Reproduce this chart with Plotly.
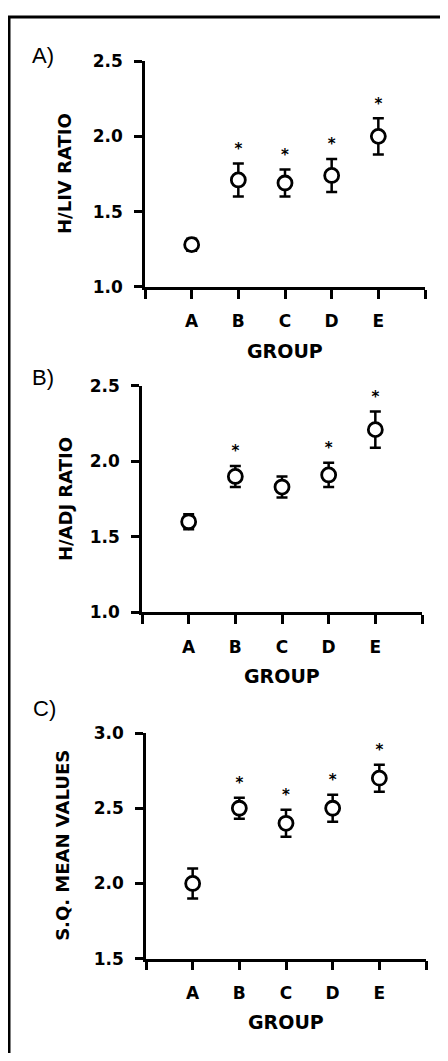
import plotly.graph_objects as go

groups = ["A", "B", "C", "D", "E"]

hliv_mean = [1.28, 1.71, 1.69, 1.74, 2.00]
hliv_err = [0.04, 0.11, 0.09, 0.11, 0.12]
hliv_sig = [False, True, True, True, True]

hadj_mean = [1.60, 1.90, 1.83, 1.91, 2.21]
hadj_err = [0.05, 0.07, 0.07, 0.08, 0.12]
hadj_sig = [False, True, False, True, True]

sq_mean = [2.00, 2.50, 2.40, 2.50, 2.70]
sq_err = [0.10, 0.07, 0.09, 0.09, 0.09]
sq_sig = [False, True, True, True, True]

panels = [
    dict(label="A)", ytitle="H/LIV RATIO", mean=hliv_mean, err=hliv_err, sig=hliv_sig,
         yrange=[1.0, 2.5], yticks=[1.0, 1.5, 2.0, 2.5]),
    dict(label="B)", ytitle="H/ADJ RATIO", mean=hadj_mean, err=hadj_err, sig=hadj_sig,
         yrange=[1.0, 2.5], yticks=[1.0, 1.5, 2.0, 2.5]),
    dict(label="C)", ytitle="S.Q. MEAN VALUES", mean=sq_mean, err=sq_err, sig=sq_sig,
         yrange=[1.5, 3.0], yticks=[1.5, 2.0, 2.5, 3.0]),
]

# page has an 8px body margin; figure sized to fit inside the window
OFF = 8
W, H = 448 - 2 * OFF, 1061 - 2 * OFF


def X(px):
    return (px - OFF) / W


def Y(py):
    return 1 - (py - OFF) / H


geo = [
    dict(px=(145, 425), py=(52, 282), lab=(43, 46), ytx=65, grp=347),
    dict(px=(142, 422), py=(383, 614), lab=(43, 375), ytx=65, grp=679),
    dict(px=(146, 426), py=(737, 967), lab=(44, 712), ytx=63, grp=1032),
]

FONT = "DejaVu Sans"
fig = go.Figure()
xpos = [i + 1 for i in range(len(groups))]
annotations = []
layout_axes = {}

for k, (p, g) in enumerate(zip(panels, geo)):
    n = "" if k == 0 else str(k + 1)
    xa, ya = "x" + n, "y" + n
    fig.add_trace(go.Scatter(
        x=xpos, y=p["mean"], mode="markers", xaxis=xa, yaxis=ya,
        marker=dict(symbol="circle", size=14, color="white",
                    line=dict(color="black", width=2.8)),
        error_y=dict(type="data", array=p["err"], visible=True,
                     color="black", thickness=2.5, width=5.5),
        showlegend=False, hoverinfo="skip"))
    sx = [x for x, s in zip(xpos, p["sig"]) if s]
    sy = [m + e + 0.09 for m, e, s in zip(p["mean"], p["err"], p["sig"]) if s]
    fig.add_trace(go.Scatter(
        x=sx, y=sy, mode="text", text=["*"] * len(sx), xaxis=xa, yaxis=ya,
        textposition="middle center",
        textfont=dict(family=FONT, size=15, color="black", weight="bold"),
        showlegend=False, hoverinfo="skip"))

    x0, x1 = g["px"]
    yt, yb = g["py"]
    layout_axes["xaxis" + n] = dict(
        domain=[X(x0), X(x1)], anchor=ya, range=[0, 6],
        tickvals=[0] + xpos + [6], ticktext=[""] + groups + [""],
        ticks="outside", ticklen=9, tickwidth=2.5, tickcolor="black",
        showline=True, linewidth=2.7, linecolor="black",
        showgrid=False, zeroline=False, ticklabelstandoff=8,
        tickfont=dict(family=FONT, size=17, color="black", weight="bold"),
        fixedrange=True)
    layout_axes["yaxis" + n] = dict(
        domain=[Y(yb), Y(yt)], anchor=xa, range=p["yrange"],
        tickvals=p["yticks"], ticktext=[f"{v:.1f}" for v in p["yticks"]],
        ticks="outside", ticklen=8, tickwidth=2.5, tickcolor="black",
        showline=True, linewidth=2.7, linecolor="black",
        showgrid=False, zeroline=False, ticklabelstandoff=8,
        tickfont=dict(family=FONT, size=17, color="black", weight="bold"),
        fixedrange=True)

    annotations.append(dict(
        text=p["label"], x=X(g["lab"][0]), y=Y(g["lab"][1]),
        xref="paper", yref="paper", showarrow=False, xanchor="center", yanchor="middle",
        font=dict(family="Liberation Sans", size=22, color="black")))
    annotations.append(dict(
        text=p["ytitle"], x=X(g["ytx"]), y=Y((yt + yb) / 2),
        xref="paper", yref="paper", showarrow=False, textangle=-90,
        xanchor="center", yanchor="middle",
        font=dict(family=FONT, size=18, color="black", weight="bold")))
    annotations.append(dict(
        text="GROUP", x=X((x0 + x1) / 2), y=Y(g["grp"]),
        xref="paper", yref="paper", showarrow=False,
        xanchor="center", yanchor="middle",
        font=dict(family=FONT, size=19, color="black", weight="bold")))

shapes = [
    dict(type="line", xref="paper", yref="paper", x0=X(8), x1=1.05, y0=Y(7), y1=Y(7),
         line=dict(color="black", width=3)),
    dict(type="line", xref="paper", yref="paper", x0=X(9), x1=X(9), y0=-0.05, y1=Y(7),
         line=dict(color="black", width=3)),
]

fig.update_layout(
    width=W, height=H, autosize=False,
    margin=dict(l=0, r=0, t=0, b=0),
    paper_bgcolor="white", plot_bgcolor="white",
    annotations=annotations, shapes=shapes,
    **layout_axes)

fig.write_html("out.html")
